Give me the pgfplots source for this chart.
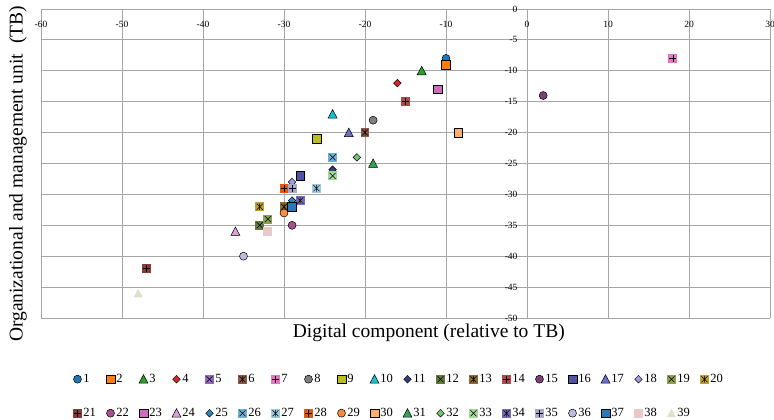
\documentclass[border=0pt]{standalone}
\usepackage{fontspec}
\setmainfont{Liberation Serif}
\usepackage{pgfplots}
\pgfplotsset{compat=1.18}

\definecolor{c1}{HTML}{1F77B4}\definecolor{c2}{HTML}{FF7F0E}\definecolor{c3}{HTML}{2CA02C}
\definecolor{c4}{HTML}{D62728}\definecolor{c5}{HTML}{9467BD}\definecolor{c6}{HTML}{8C564B}
\definecolor{c7}{HTML}{E377C2}\definecolor{c8}{HTML}{7F7F7F}\definecolor{c9}{HTML}{BCBD22}
\definecolor{c10}{HTML}{17BECF}\definecolor{c11}{HTML}{393B79}\definecolor{c12}{HTML}{637939}
\definecolor{c13}{HTML}{8C6D31}\definecolor{c14}{HTML}{AD494A}\definecolor{c15}{HTML}{7B4173}
\definecolor{c16}{HTML}{5254A3}\definecolor{c17}{HTML}{6B6ECF}\definecolor{c18}{HTML}{9C9EDE}
\definecolor{c19}{HTML}{8CA252}\definecolor{c20}{HTML}{BD9E39}\definecolor{c21}{HTML}{843C39}
\definecolor{c22}{HTML}{A55194}\definecolor{c23}{HTML}{CE6DBD}\definecolor{c24}{HTML}{DE9ED6}
\definecolor{c25}{HTML}{3182BD}\definecolor{c26}{HTML}{6BAED6}\definecolor{c27}{HTML}{9ECAE1}
\definecolor{c28}{HTML}{E6550D}\definecolor{c29}{HTML}{FD8D3C}\definecolor{c30}{HTML}{FDAE6B}
\definecolor{c31}{HTML}{31A354}\definecolor{c32}{HTML}{74C476}\definecolor{c33}{HTML}{A1D99B}
\definecolor{c34}{HTML}{756BB1}\definecolor{c35}{HTML}{A9A6D0}\definecolor{c36}{HTML}{BCBDDC}
\definecolor{c37}{HTML}{2A7AB9}\definecolor{c38}{HTML}{E8C9C9}\definecolor{c39}{HTML}{D9E5C9}
\definecolor{gridc}{HTML}{A6A6A6}

\pgfdeclareplotmark{msq}{\pgfpathrectangle{\pgfqpoint{-1.1\pgfplotmarksize}{-1.1\pgfplotmarksize}}{\pgfqpoint{2.2\pgfplotmarksize}{2.2\pgfplotmarksize}}\pgfusepathqfillstroke}
\pgfdeclareplotmark{msqn}{\pgfpathrectangle{\pgfqpoint{-1.1\pgfplotmarksize}{-1.1\pgfplotmarksize}}{\pgfqpoint{2.2\pgfplotmarksize}{2.2\pgfplotmarksize}}\pgfusepathqfill}
\pgfdeclareplotmark{mtri}{\pgfpathmoveto{\pgfqpoint{0pt}{1.125\pgfplotmarksize}}\pgfpathlineto{\pgfqpoint{1.125\pgfplotmarksize}{-\pgfplotmarksize}}\pgfpathlineto{\pgfqpoint{-1.125\pgfplotmarksize}{-\pgfplotmarksize}}\pgfpathclose\pgfusepathqfillstroke}
\pgfdeclareplotmark{mtrin}{\pgfpathmoveto{\pgfqpoint{0pt}{1.125\pgfplotmarksize}}\pgfpathlineto{\pgfqpoint{1.125\pgfplotmarksize}{-\pgfplotmarksize}}\pgfpathlineto{\pgfqpoint{-1.125\pgfplotmarksize}{-\pgfplotmarksize}}\pgfpathclose\pgfusepathqfill}
\pgfdeclareplotmark{mdia}{\pgfpathmoveto{\pgfqpoint{0pt}{0.95\pgfplotmarksize}}\pgfpathlineto{\pgfqpoint{0.95\pgfplotmarksize}{0pt}}\pgfpathlineto{\pgfqpoint{0pt}{-0.95\pgfplotmarksize}}\pgfpathlineto{\pgfqpoint{-0.95\pgfplotmarksize}{0pt}}\pgfpathclose\pgfusepathqfillstroke}
\pgfdeclareplotmark{msqx}{\pgfpathrectangle{\pgfqpoint{-1.1\pgfplotmarksize}{-1.1\pgfplotmarksize}}{\pgfqpoint{2.2\pgfplotmarksize}{2.2\pgfplotmarksize}}\pgfusepathqfill
\pgfpathmoveto{\pgfqpoint{-.75\pgfplotmarksize}{-.75\pgfplotmarksize}}\pgfpathlineto{\pgfqpoint{.75\pgfplotmarksize}{.75\pgfplotmarksize}}
\pgfpathmoveto{\pgfqpoint{-.75\pgfplotmarksize}{.75\pgfplotmarksize}}\pgfpathlineto{\pgfqpoint{.75\pgfplotmarksize}{-.75\pgfplotmarksize}}\pgfusepathqstroke}
\pgfdeclareplotmark{msqa}{\pgfpathrectangle{\pgfqpoint{-1.1\pgfplotmarksize}{-1.1\pgfplotmarksize}}{\pgfqpoint{2.2\pgfplotmarksize}{2.2\pgfplotmarksize}}\pgfusepathqfill
\pgfpathmoveto{\pgfqpoint{-.75\pgfplotmarksize}{-.75\pgfplotmarksize}}\pgfpathlineto{\pgfqpoint{.75\pgfplotmarksize}{.75\pgfplotmarksize}}
\pgfpathmoveto{\pgfqpoint{-.75\pgfplotmarksize}{.75\pgfplotmarksize}}\pgfpathlineto{\pgfqpoint{.75\pgfplotmarksize}{-.75\pgfplotmarksize}}
\pgfpathmoveto{\pgfqpoint{0pt}{-.85\pgfplotmarksize}}\pgfpathlineto{\pgfqpoint{0pt}{.85\pgfplotmarksize}}\pgfusepathqstroke}
\pgfdeclareplotmark{msqp}{\pgfpathrectangle{\pgfqpoint{-1.1\pgfplotmarksize}{-1.1\pgfplotmarksize}}{\pgfqpoint{2.2\pgfplotmarksize}{2.2\pgfplotmarksize}}\pgfusepathqfill
\pgfpathmoveto{\pgfqpoint{-.85\pgfplotmarksize}{0pt}}\pgfpathlineto{\pgfqpoint{.85\pgfplotmarksize}{0pt}}
\pgfpathmoveto{\pgfqpoint{0pt}{-.85\pgfplotmarksize}}\pgfpathlineto{\pgfqpoint{0pt}{.85\pgfplotmarksize}}\pgfusepathqstroke}

\pgfplotsset{
  mk/.style n args={2}{only marks, mark=#1, mark size=4pt,
    mark options={fill=#2, draw=black, line width=0.5pt, solid}},
}

\begin{document}
\begin{tikzpicture}
\begin{axis}[
  name=ax,
  scale only axis, width=729pt, height=309pt,
  xmin=-60, xmax=30, ymin=-50, ymax=0,
  axis lines=middle,
  axis line style={draw=gridc, line width=0.8pt, -},
  every inner x axis line/.append style={-},
  every inner y axis line/.append style={-},
  hide obscured x ticks=false, hide obscured y ticks=false,
  xtick={-60,-50,...,30}, ytick={-50,-45,...,0},
  major tick length=0pt,
  grid=major,
  major grid style={draw=gridc, line width=0.8pt},
  /pgf/number format/assume math mode=true,
  tick label style={font=\fontsize{9.5}{11}\selectfont},
  xticklabel style={anchor=north, yshift=-9pt},
  yticklabel style={anchor=east, xshift=-6pt},
  xlabel={Digital component (relative to TB)},
  ylabel={Organizational and management unit\ \ (TB)},
  xlabel style={at={(axis description cs:0.532,-0.02)}, anchor=north, inner sep=0pt, font=\fontsize{19.5}{22}\selectfont},
  ylabel style={at={(axis description cs:-0.0192,0.466)}, anchor=south, rotate=90, inner sep=0pt, font=\fontsize{19.5}{22}\selectfont},
  clip=false,
  legend columns=20,
  legend style={at={(axis description cs:0.4945,-0.165)}, anchor=north, draw=none, fill=none,
    font=\fontsize{12.5}{14}\selectfont,
    nodes={text width=19pt, align=left, inner xsep=1pt, text height=9pt, text depth=3pt},
    /tikz/every even column/.append style={column sep=2pt}, row sep=18pt},
  legend image code/.code={\path[draw=none,fill=none] (-5pt,-4pt) rectangle (5pt,4pt); \draw[#1] plot coordinates {(0pt,0pt)};},
]
\addplot[mk={*}{c1}] coordinates {(-10,-8)};
\addplot[mk={msq}{c2}] coordinates {(-10,-9)};
\addplot[mk={mtri}{c3}] coordinates {(-13,-10)};
\addplot[mk={mdia}{c4}] coordinates {(-16,-12)};
\addplot[mk={msqx}{c5}] coordinates {(-28,-31)};
\addplot[mk={msqa}{c6}] coordinates {(-20,-20)};
\addplot[mk={msqp}{c7}] coordinates {(18,-8)};
\addplot[mk={*}{c8}] coordinates {(-19,-18)};
\addplot[mk={msq}{c9}] coordinates {(-26,-21)};
\addplot[mk={mtri}{c10}] coordinates {(-24,-17)};
\addplot[mk={mdia}{c11}] coordinates {(-24,-26)};
\addplot[mk={msqx}{c12}] coordinates {(-33,-35)};
\addplot[mk={msqa}{c13}] coordinates {(-30,-32)};
\addplot[mk={msqp}{c14}] coordinates {(-15,-15)};
\addplot[mk={*}{c15}] coordinates {(2,-14)};
\addplot[mk={msq}{c16}] coordinates {(-28,-27)};
\addplot[mk={mtri}{c17}] coordinates {(-22,-20)};
\addplot[mk={mdia}{c18}] coordinates {(-29,-28)};
\addplot[mk={msqx}{c19}] coordinates {(-32,-34)};
\addplot[mk={msqa}{c20}] coordinates {(-33,-32)};
\addplot[mk={msqp}{c21}] coordinates {(-47,-42)};
\addplot[mk={*}{c22}] coordinates {(-29,-35)};
\addplot[mk={msq}{c23}] coordinates {(-11,-13)};
\addplot[mk={mtri}{c24}] coordinates {(-36,-36)};
\addplot[mk={mdia}{c25}] coordinates {(-29,-31)};
\addplot[mk={msqx}{c26}] coordinates {(-24,-24)};
\addplot[mk={msqa}{c27}] coordinates {(-26,-29)};
\addplot[mk={msqp}{c28}] coordinates {(-30,-29)};
\addplot[mk={*}{c29}] coordinates {(-30,-33)};
\addplot[mk={msq}{c30}] coordinates {(-8.5,-20)};
\addplot[mk={mtri}{c31}] coordinates {(-19,-25)};
\addplot[mk={mdia}{c32}] coordinates {(-21,-24)};
\addplot[mk={msqx}{c33}] coordinates {(-24,-27)};
\addplot[mk={msqa}{c34}] coordinates {(-28,-31)};
\addplot[mk={msqp}{c35}] coordinates {(-29,-29)};
\addplot[mk={*}{c36}] coordinates {(-35,-40)};
\addplot[mk={msq}{c37}] coordinates {(-29,-32)};
\addplot[mk={msqn}{c38}] coordinates {(-32,-36)};
\addplot[mk={mtrin}{c39}] coordinates {(-48,-46)};
\legend{1,2,3,4,5,6,7,8,9,10,11,12,13,14,15,16,17,18,19,20,21,22,23,24,25,26,27,28,29,30,31,32,33,34,35,36,37,38,39}
\coordinate (bl) at (rel axis cs:0,0);
\coordinate (tr) at (rel axis cs:1,1);
\end{axis}
\pgfresetboundingbox
\path ([shift={(-41pt,-102pt)}]bl) rectangle ([shift={(4pt,9pt)}]tr);
\end{tikzpicture}
\end{document}
